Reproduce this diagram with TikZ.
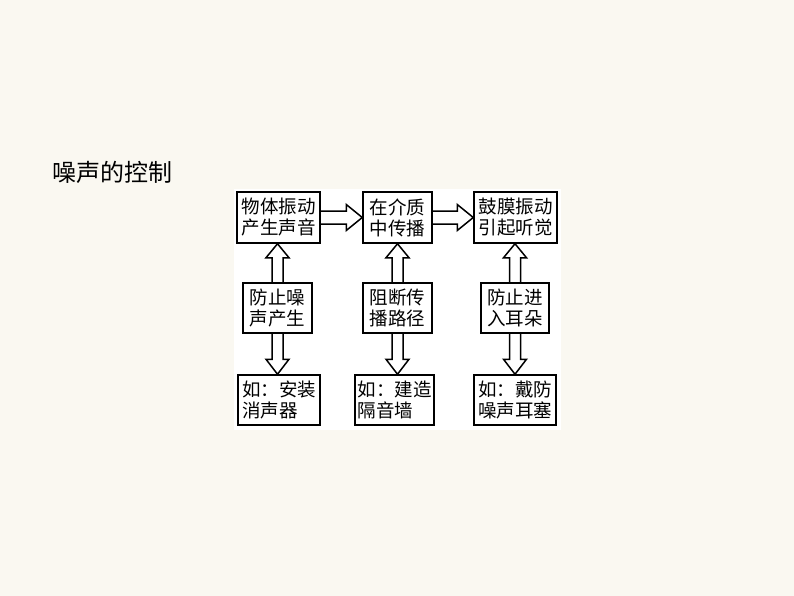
\documentclass[tikz,border=0pt]{standalone}
\usepackage{fontspec}
\setmainfont{Noto Sans CJK SC}
\usetikzlibrary{calc}
\definecolor{paper}{RGB}{250,248,241}

\begin{document}
\begin{tikzpicture}[x=1pt, y=-1pt, line width=1.5pt,
  box/.style={draw, inner sep=0pt, minimum height=50pt, align=center, font=\fontsize{18.5pt}{21pt}\selectfont},
  eg/.style={box, align=left},
  fat/.style={draw, line width=1.5pt, line join=miter}]
\fill[paper] (0,0) rectangle (794,596);
\fill[white] (234,189) rectangle (561,430);
\useasboundingbox (0,0) rectangle (794,596);

\node[anchor=west, inner sep=0pt, font=\fontsize{24pt}{28pt}\selectfont] (title) at (52,172) {噪声的控制};

%top row
\node[box, minimum width=83pt, minimum height=51pt] (sound) at (278.5,217.5) {物体振动\\产生声音};
\node[box, minimum width=69pt, minimum height=51pt] (medium) at (397.5,217.5) {在介质\\中传播};
\node[box, minimum width=83pt, minimum height=51pt] (ear) at (515.5,217.5) {鼓膜振动\\引起听觉};

%middle row
\node[box, minimum width=69pt] (stopA) at (277.5,308) {防止噪\\声产生};
\node[box, minimum width=69pt] (stopB) at (397.5,308) {阻断传\\播路径};
\node[box, minimum width=68pt] (stopC) at (515,308) {防止进\\入耳朵};

%bottom row
\node[eg, minimum width=82pt] (egA) at (279,400) {如：安装\\消声器};
\node[eg, minimum width=79pt] (egB) at (394.5,400) {如：建造\\隔音墙};
\node[eg, minimum width=82pt] (egC) at (515,400) {如：戴防\\噪声耳塞};

%hollow arrows
\foreach \a/\b in {sound/medium, medium/ear}
  \draw[fat] let \p1=(\a.east), \p2=(\b.west) in
    (\x1,\y1+6.5pt) -- (\x2-16pt,\y1+6.5pt) -- (\x2-16pt,\y1+13pt) -- (\x2,\y1)
    -- (\x2-16pt,\y1-13pt) -- (\x2-16pt,\y1-6.5pt) -- (\x1,\y1-6.5pt);
\foreach \a/\b in {stopA/sound, stopB/medium, stopC/ear}
  \draw[fat] let \p1=(\a.north), \p2=(\b.south) in
    (\x1-5.5pt,\y1) -- (\x1-5.5pt,\y2-14pt) -- (\x1-11.5pt,\y2-14pt) -- (\x1,\y2)
    -- (\x1+11.5pt,\y2-14pt) -- (\x1+5.5pt,\y2-14pt) -- (\x1+5.5pt,\y1);
\foreach \a/\b in {stopA/egA, stopB/egB, stopC/egC}
  \draw[fat] let \p1=(\a.south), \p2=(\b.north) in
    (\x1-5.5pt,\y1) -- (\x1-5.5pt,\y2+15pt) -- (\x1-11.5pt,\y2+15pt) -- (\x1,\y2)
    -- (\x1+11.5pt,\y2+15pt) -- (\x1+5.5pt,\y2+15pt) -- (\x1+5.5pt,\y1);

\end{tikzpicture}
\end{document}
